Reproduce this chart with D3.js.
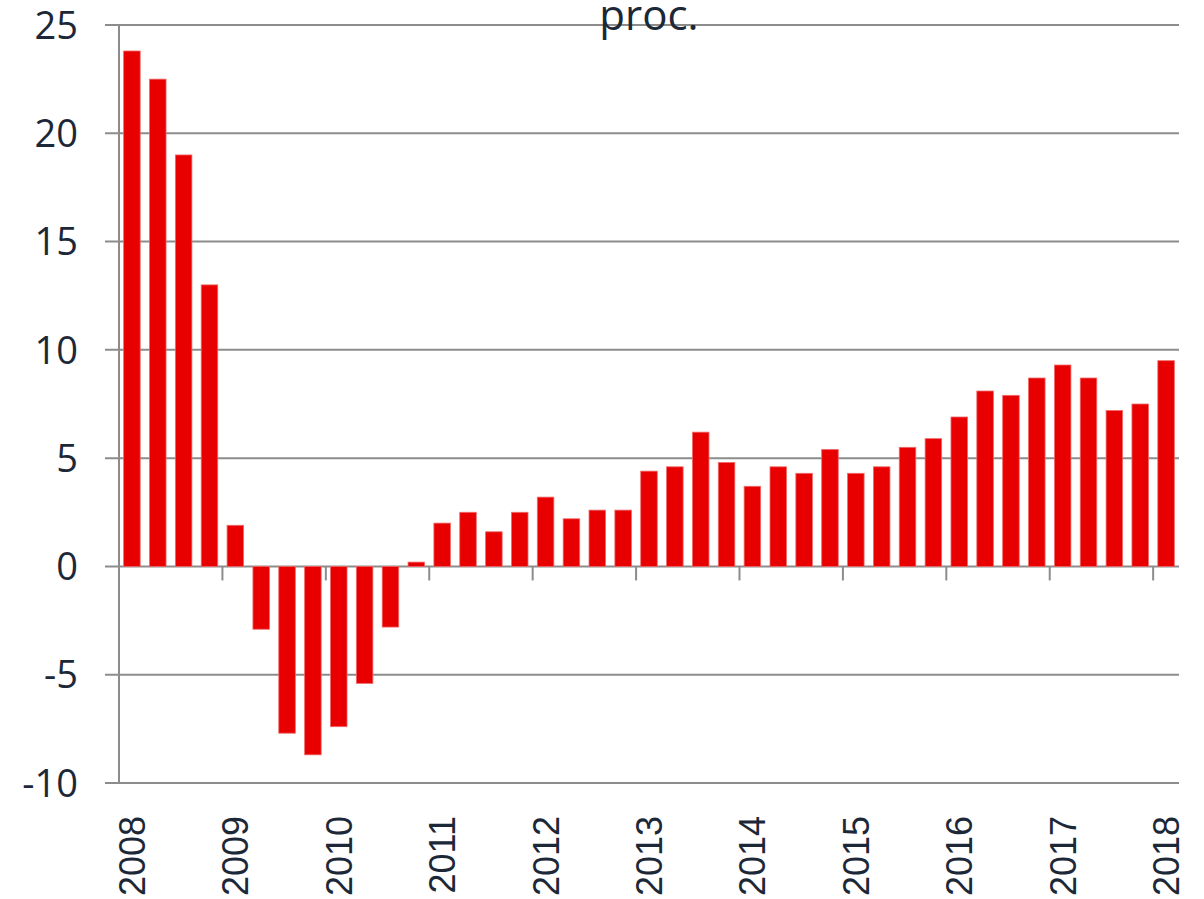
<!DOCTYPE html>
<meta charset="utf-8">
<style>
body { margin: 0; background: #fff; }
.grid line { stroke: #8c8c8c; stroke-width: 2px; }
.bars rect { fill: #e80000; stroke: #f06a6a; stroke-width: 0.8px; }
.ylabels text { fill: #1c2838; font-family: "Open Sans", sans-serif; font-size: 38px; }
.xlabels text { fill: #1c2838; font-family: "Liberation Sans", Arial, sans-serif; font-size: 36px; }
.title { fill: #1c2838; font-family: "Open Sans", sans-serif; font-size: 42px; }
</style>
<svg id="chart" width="1204" height="899"></svg>
<script src="https://cdnjs.cloudflare.com/ajax/libs/d3/7.8.5/d3.min.js"></script>
<script>
var years = [2008, 2009, 2010, 2011, 2012, 2013, 2014, 2015, 2016, 2017, 2018];
var quarters = [];
years.forEach(function(yr) {
    [1, 2, 3, 4].forEach(function(q) {
        if (yr < 2018 || q === 1) quarters.push(yr + "Q" + q);
    });
});
var values = [
    23.8, 22.5, 19.0, 13.0,
    1.9, -2.9, -7.7, -8.7,
    -7.4, -5.4, -2.8, 0.2,
    2.0, 2.5, 1.6, 2.5,
    3.2, 2.2, 2.6, 2.6,
    4.4, 4.6, 6.2, 4.8,
    3.7, 4.6, 4.3, 5.4,
    4.3, 4.6, 5.5, 5.9,
    6.9, 8.1, 7.9, 8.7,
    9.3, 8.7, 7.2, 7.5,
    9.5
];
var yTicks = [-10, -5, 0, 5, 10, 15, 20, 25];
var title = "proc.";

var svg = d3.select("#chart");
var plotLeft = 119, plotRight = 1179, plotTop = 25, plotBottom = 783;

var x = d3.scaleBand()
          .domain(quarters)
          .range([plotLeft, plotRight])
          .paddingInner(0.36)
          .paddingOuter(0.18);
var y = d3.scaleLinear()
          .domain([-10, 25])
          .range([plotBottom, plotTop]);

// horizontal gridlines
svg.append("g")
   .attr("class", "grid")
   .selectAll("line")
   .data(yTicks)
   .enter().append("line")
   .attr("x1", plotLeft - 14)
   .attr("x2", plotRight)
   .attr("y1", function(d) { return y(d); })
   .attr("y2", function(d) { return y(d); });

// vertical axis line + year ticks on zero line
var g = svg.append("g").attr("class", "grid");
g.append("line")
 .attr("x1", plotLeft).attr("x2", plotLeft)
 .attr("y1", y(25)).attr("y2", y(-10));

var yearStarts = quarters.filter(function(q) { return /Q1$/.test(q); });
g.selectAll("line.tick")
 .data(yearStarts)
 .enter().append("line")
 .attr("class", "tick")
 .attr("x1", function(d) { return x(d) - x.step() * x.paddingInner() / 2; })
 .attr("x2", function(d) { return x(d) - x.step() * x.paddingInner() / 2; })
 .attr("y1", y(0))
 .attr("y2", y(0) + 14);

svg.append("g")
   .attr("class", "bars")
   .selectAll("rect")
   .data(values)
   .enter().append("rect")
   .attr("x", function(d, i) { return x(quarters[i]); })
   .attr("width", x.bandwidth())
   .attr("y", function(d) { return y(Math.max(0, d)); })
   .attr("height", function(d) { return Math.abs(y(d) - y(0)); });

svg.append("g")
   .attr("class", "ylabels")
   .selectAll("text")
   .data(yTicks)
   .enter().append("text")
   .attr("x", 78)
   .attr("y", function(d) { return y(d); })
   .attr("dy", "0.36em")
   .attr("text-anchor", "end")
   .text(function(d) { return d; });

svg.append("g")
   .attr("class", "xlabels")
   .selectAll("text")
   .data(yearStarts)
   .enter().append("text")
   .attr("transform", function(d) {
       return "translate(" + (x(d) + x.bandwidth() / 2) + ",816) rotate(-90)";
   })
   .attr("dy", "0.36em")
   .attr("text-anchor", "end")
   .text(function(d) { return d.slice(0, 4); });

svg.append("text")
   .attr("class", "title")
   .attr("x", (plotLeft + plotRight) / 2)
   .attr("y", 30)
   .attr("text-anchor", "middle")
   .text(title);
</script>
